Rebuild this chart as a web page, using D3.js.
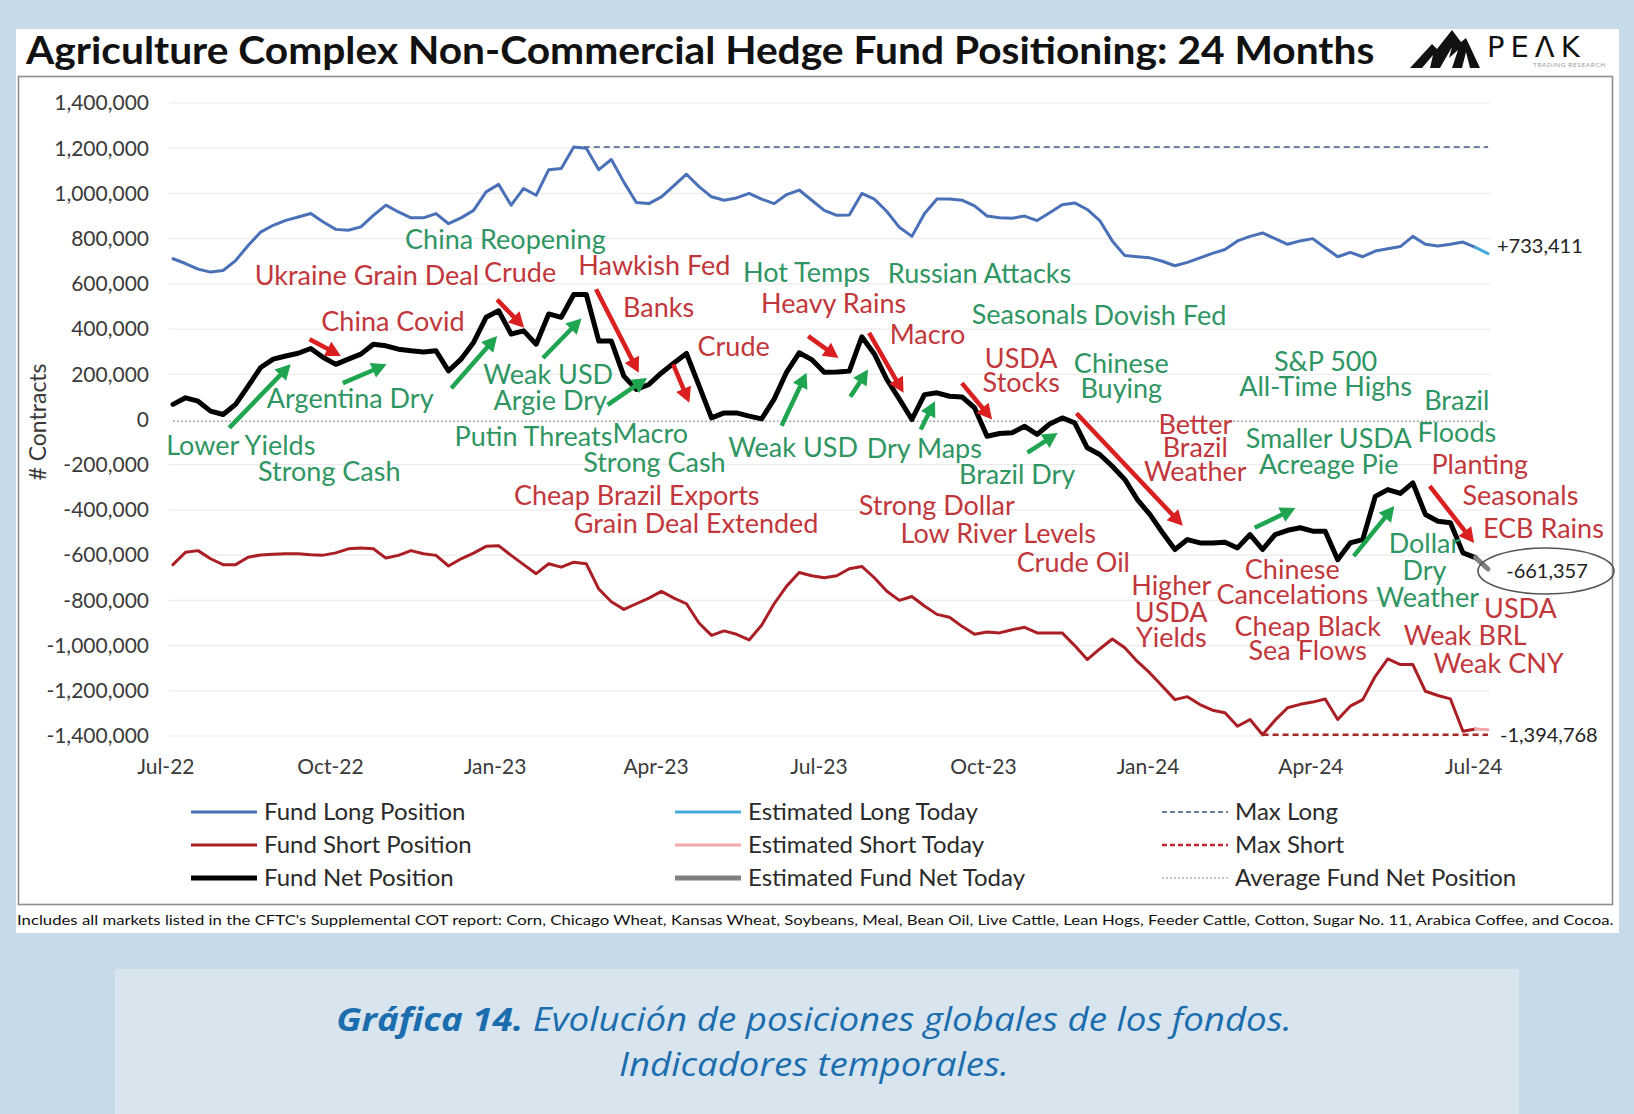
<!DOCTYPE html>
<html><head><meta charset="utf-8">
<script src="https://cdn.jsdelivr.net/npm/d3@7"></script>
<style>
html,body{margin:0;padding:0;background:#c6dae8;}
svg{display:block;}
</style></head><body>
<svg id="c" width="1634" height="1114"></svg>
<script>
// ---------------- DATA ----------------
const weekStart = new Date(2022, 6, 5);          // first weekly COT report
const nWeeks = 106;
const weekDates = d3.range(nWeeks).map(i => d3.timeDay.offset(weekStart, 7 * i));

// values in thousands of contracts
const fundLong = [711,690,665,652,659,703,770,829,859,881,
  896,911,874,841,837,852,903,948,918,892,
  892,911,866,892,925,1007,1040,948,1022,992,
  1105,1110,1205,1200,1105,1150,1050,960,955,985,
  1035,1085,1030,985,970,980,1000,975,955,995,
  1015,970,925,903,905,1000,975,920,850,810,
  910,975,975,970,945,900,892,890,900,880,
  915,950,958,929,880,790,725,720,715,700,
  680,695,715,735,752,790,810,825,800,775,
  790,800,760,720,739,720,745,755,765,810,
  775,767,775,785,761,733.411];
const fundShort = [-642,-587,-580,-616,-642,-642,-609,-599,-596,-594,
  -594,-598,-600,-590,-572,-568,-572,-613,-601,-580,
  -594,-601,-648,-616,-591,-561,-558,-601,-642,-682,
  -638,-653,-631,-638,-750,-806,-840,-815,-790,-760,
  -790,-815,-900,-955,-935,-950,-975,-910,-815,-737,
  -677,-691,-700,-691,-660,-650,-700,-760,-800,-783,
  -825,-862,-875,-915,-950,-940,-944,-930,-919,-944,
  -944,-944,-1000,-1062,-1015,-971,-1010,-1070,-1121,-1180,
  -1239,-1226,-1261,-1286,-1297,-1357,-1327,-1394.768,-1330,-1275,
  -1260,-1250,-1236,-1327,-1268,-1239,-1136,-1059,-1084,-1084,
  -1202,-1221,-1236,-1379,-1369,-1372];
const fundNet = [67,96,81,37,22,67,148,230,267,281,
  293,314,274,244,267,289,333,326,311,304,
  299,304,215,267,341,452,481,378,392,333,
  467,452,553,553,347,347,192,133,155,206,
  250,292,150,7,29,29,15,3,90,210,
  295,265,209,210,214,366,290,177,90,0,
  110,118,103,100,52,-74,-62,-59,-30,-66,
  -20,7,-15,-125,-155,-207,-265,-354,-420,-500,
  -575,-531,-546,-546,-543,-568,-509,-575,-509,-490,
  -479,-494,-494,-620,-546,-531,-340,-310,-327,-280,
  -420,-450,-457,-590,-611,-661.357];

const maxLong = 1205000;
const maxShort = -1394768;
const avgNet = -8000;
const maxLongStart = 32;     // week index where max long occurs
const maxShortStart = 87;    // week index where max short occurs

const yTicks = d3.range(-1400000, 1400001, 200000);
const xTicks = [new Date(2022,6,1),new Date(2022,9,1),new Date(2023,0,1),new Date(2023,3,1),
  new Date(2023,6,1),new Date(2023,9,1),new Date(2024,0,1),new Date(2024,3,1),new Date(2024,6,1)];

const endLabels = {long: "+733,411", net: "-661,357", maxShort: "-1,394,768"};

// annotations: [text, week position, value (thousands)]
const greenNotes = [
  ["China Reopening",26.54,797],["Lower Yields",5.41,-115],["Strong Cash",12.48,-230],
  ["Argentina Dry",14.15,92],["Weak USD",29.96,198],["Argie Dry",30.12,83],
  ["Putin Threats",28.79,-74],["Macro",38.11,-60],["Strong Cash",38.44,-189],
  ["Hot Temps",50.59,650],["Russian Attacks",64.40,645],["Weak USD",49.51,-124],
  ["Dry Maps",59.99,-129],["Seasonals",68.40,466],["Dovish Fed",78.80,461],
  ["Chinese",75.72,249],["Buying",75.72,138],["Brazil Dry",67.40,-244],
  ["S&P 500",92.03,258],["All-Time Highs",92.03,147],["Smaller USDA",92.28,-83],
  ["Acreage Pie",92.28,-198],["Brazil",102.51,83],["Floods",102.51,-55],
  ["Dollar",99.93,-548],["Dry",99.93,-668],["Weather",100.18,-788]
];
const redNotes = [
  ["Ukraine Grain Deal",15.48,636],["Crude",27.71,650],["Hawkish Fed",38.44,682],
  ["China Covid",17.56,433],["Banks",38.78,498],["Crude",44.77,323],
  ["Heavy Rains",52.75,512],["Macro",60.24,378],["USDA",67.73,272],["Stocks",67.73,166],
  ["Cheap Brazil Exports",37.03,-336],["Grain Deal Extended",41.77,-461],
  ["Strong Dollar",60.99,-378],["Low River Levels",65.90,-502],["Crude Oil",71.89,-631],
  ["Better",81.63,-23],["Brazil",81.63,-124],["Weather",81.63,-230],
  ["Higher",79.71,-733],["USDA",79.71,-853],["Yields",79.71,-963],
  ["Chinese",89.37,-664],["Cancelations",89.37,-774],
  ["Cheap Black",90.61,-913],["Sea Flows",90.61,-1023],
  ["Planting",104.34,-198],["Seasonals",107.59,-336],["ECB Rains",109.42,-479],
  ["USDA",107.59,-834],["Weak BRL",103.18,-954],["Weak CNY",105.84,-1078]
];
// arrows: [w1, v1, w2, v2] (tail -> head)
const greenArrows = [
  [4.49,-37,9.40,244],[13.56,161,17.06,244],[22.22,138,25.88,369],[29.54,272,32.62,447],
  [34.70,65,37.86,184],[48.59,-28,50.59,207],[54.09,101,55.50,221],[59.70,-44,60.84,81],
  [68.23,-147,70.64,-60],[86.37,-479,89.62,-392],[94.28,-604,97.52,-383]
];
const redArrows = [
  [10.90,355,13.40,281],[25.88,530,28.04,406],[33.78,576,37.19,207],[39.94,244,41.23,74],
  [50.72,369,53.14,272],[55.58,383,58.33,118],[62.99,161,65.40,0],[72.14,28,80.63,-470],
  [100.35,-295,103.89,-546]
];

const legendItems = [
  {label:"Fund Long Position", col:0, row:0, color:"#4a70b8", w:3, dash:null},
  {label:"Fund Short Position", col:0, row:1, color:"#aa1f25", w:3, dash:null},
  {label:"Fund Net Position", col:0, row:2, color:"#000", w:5, dash:null},
  {label:"Estimated Long Today", col:1, row:0, color:"#46a9dc", w:3, dash:null},
  {label:"Estimated Short Today", col:1, row:1, color:"#f3a7a7", w:3, dash:null},
  {label:"Estimated Fund Net Today", col:1, row:2, color:"#808080", w:5, dash:null},
  {label:"Max Long", col:2, row:0, color:"#6f82a4", w:2, dash:"5,3"},
  {label:"Max Short", col:2, row:1, color:"#c0282d", w:2.5, dash:"5,3"},
  {label:"Average Fund Net Position", col:2, row:2, color:"#b8b8b8", w:1.5, dash:"2,2"}
];

// ---------------- DRAW ----------------
const svg = d3.select("#c");
const FONT = "Lato, 'Open Sans', sans-serif";
const fmtNum = d3.formatLocale({decimal:".", thousands:",", grouping:[3], currency:["$",""], minus:"-"}).format(",");

function fit(sel, target, pivot) {
  const bb = sel.node().getBBox();
  const s = target / bb.width;
  const px = pivot === "middle" ? bb.x + bb.width / 2 : bb.x;
  sel.attr("transform", `translate(${px},0) scale(${s},1) translate(${-px},0)`);
}

// backgrounds
svg.append("rect").attr("x",0).attr("y",0).attr("width",1634).attr("height",1114).attr("fill","#c6dae8");
svg.append("rect").attr("x",16).attr("y",29).attr("width",1603).attr("height",904).attr("fill","#fff");
svg.append("rect").attr("x",18.5).attr("y",76.5).attr("width",1594).attr("height",828)
  .attr("fill","none").attr("stroke","#8e8e8e").attr("stroke-width",1.6);
svg.append("rect").attr("x",115).attr("y",969).attr("width",1404).attr("height",145).attr("fill","#d8e5ef");

// title
const title = svg.append("text").attr("x",26).attr("y",64)
  .attr("font-family",FONT).attr("font-weight",700).attr("font-size",38).attr("fill","#111")
  .text("Agriculture Complex Non-Commercial Hedge Fund Positioning: 24 Months");
fit(title, 1350, "start");

// logo
const logo = svg.append("g");
logo.append("path").attr("d","M1410,68 L1432,44 L1437,49 L1452,30 L1461,42 L1466,38 L1480,68 Z").attr("fill","#111");
logo.append("path").attr("d","M1440,68 L1452,47 L1449,58 L1458,50 L1452,68 Z M1462,68 L1466,52 L1470,68 Z M1422,68 L1433,55 L1430,68 Z").attr("fill","#fff");
logo.append("text").attr("x",1487).attr("y",57).attr("font-family","'DejaVu Sans', sans-serif").attr("font-weight",400)
  .attr("font-size",29).attr("letter-spacing",6).attr("fill","#111").text("PEΛK");
logo.append("text").attr("x",1533).attr("y",67).attr("font-family",FONT)
  .attr("font-size",6.5).attr("letter-spacing",0.6).attr("fill","#999").text("TRADING RESEARCH");

// scales
const x = d3.scaleTime().domain([weekDates[0], weekDates[nWeeks-1]]).range([173, 1488]);
const y = d3.scaleLinear().domain([-1400000, 1400000]).range([736, 103]);
const WEEK = 7 * 864e5;
const px = w => x(new Date(+weekStart + w * WEEK));
const py = v => y(v * 1000);

// grid
const gx0 = x(weekDates[0]) - 4, gx1 = x(weekDates[nWeeks-1]) + 2;
svg.append("g").selectAll("line").data(yTicks.filter(d => d !== 0)).join("line")
  .attr("x1",gx0).attr("x2",gx1).attr("y1",d=>y(d)).attr("y2",d=>y(d))
  .attr("stroke","#ececec").attr("stroke-width",1.2);

// y axis labels
svg.append("g").selectAll("text").data(yTicks).join("text")
  .attr("x",149).attr("y",d=>y(d)).attr("dy","0.35em").attr("text-anchor","end")
  .attr("font-family",FONT).attr("font-size",21).attr("fill","#3a3a3a")
  .text(d => fmtNum(d));
svg.append("text").attr("transform","translate(46,422) rotate(-90)").attr("text-anchor","middle")
  .attr("font-family",FONT).attr("font-size",23).attr("fill","#3a3a3a").text("# Contracts");

// x axis labels
const xfmt = d3.timeFormat("%b-%y");
svg.append("g").selectAll("text").data(xTicks).join("text")
  .attr("x",d=>x(d)).attr("y",774).attr("text-anchor","middle")
  .attr("font-family",FONT).attr("font-size",21).attr("fill","#3a3a3a").text(d=>xfmt(d));

// reference lines
svg.append("line").attr("x1",x(weekDates[0])).attr("x2",x(weekDates[nWeeks-1]))
  .attr("y1",y(avgNet)).attr("y2",y(avgNet)).attr("stroke","#aaa").attr("stroke-width",1.5).attr("stroke-dasharray","2,2");
svg.append("line").attr("x1",x(weekDates[maxLongStart])).attr("x2",x(weekDates[nWeeks-1]))
  .attr("y1",y(maxLong)).attr("y2",y(maxLong)).attr("stroke","#6f82a4").attr("stroke-width",2).attr("stroke-dasharray","6,4");
svg.append("line").attr("x1",x(weekDates[maxShortStart])).attr("x2",x(weekDates[nWeeks-1]))
  .attr("y1",y(maxShort)).attr("y2",y(maxShort)).attr("stroke","#a52a2a").attr("stroke-width",2.5).attr("stroke-dasharray","6,4");

// series
const line = d3.line().x(d=>x(d[0])).y(d=>y(d[1]*1000)).curve(d3.curveLinear);
function series(vals, color, est, w) {
  const pts = vals.map((v,i)=>[weekDates[i], v]);
  svg.append("path").attr("d", line(pts.slice(0, nWeeks-1))).attr("fill","none")
    .attr("stroke",color).attr("stroke-width",w).attr("stroke-linejoin","round").attr("stroke-linecap","round");
  svg.append("path").attr("d", line(pts.slice(nWeeks-2))).attr("fill","none")
    .attr("stroke",est).attr("stroke-width",w).attr("stroke-linecap","round");
}
series(fundLong, "#4a70b8", "#46a9dc", 3);
series(fundShort, "#aa1f25", "#f3a7a7", 3);
series(fundNet, "#000", "#808080", 5);

// arrows
function arrow(g, a, color) {
  const x1 = px(a[0]), y1 = py(a[1]), x2 = px(a[2]), y2 = py(a[3]);
  const dx = x2-x1, dy = y2-y1, L = Math.hypot(dx,dy), ux = dx/L, uy = dy/L;
  const hl = 15, hw = 8, bx = x2-ux*hl, by = y2-uy*hl;
  g.append("line").attr("x1",x1).attr("y1",y1).attr("x2",bx+ux*2).attr("y2",by+uy*2)
    .attr("stroke",color).attr("stroke-width",4.5);
  g.append("path").attr("d",`M${x2},${y2}L${bx-uy*hw},${by+ux*hw}L${bx+uy*hw},${by-ux*hw}Z`).attr("fill",color);
}
const ag = svg.append("g");
greenArrows.forEach(a => arrow(ag, a, "#1fa550"));
redArrows.forEach(a => arrow(ag, a, "#d91f1f"));

// annotation text
function notes(arr, color) {
  svg.append("g").selectAll("text").data(arr).join("text")
    .attr("x",d=>px(d[1])).attr("y",d=>py(d[2])).attr("dy","0.36em").attr("text-anchor","middle")
    .attr("font-family",FONT).attr("font-size",27).attr("fill",color).text(d=>d[0]);
}
notes(greenNotes, "#2f9562");
notes(redNotes, "#c1373c");

// end labels
const lx = x(weekDates[nWeeks-1]);
svg.append("text").attr("x",lx+9).attr("y",y(fundLong[nWeeks-1]*1000)-8).attr("dy","0.35em")
  .attr("font-family",FONT).attr("font-size",20).attr("fill","#222").text(endLabels.long);
const ny = y(fundNet[nWeeks-1]*1000);
svg.append("ellipse").attr("cx",lx+58).attr("cy",ny+2).attr("rx",68).attr("ry",23)
  .attr("fill","none").attr("stroke","#555").attr("stroke-width",1.6);
svg.append("text").attr("x",lx+59).attr("y",ny+2).attr("dy","0.35em").attr("text-anchor","middle")
  .attr("font-family",FONT).attr("font-size",20).attr("fill","#222").text(endLabels.net);
svg.append("text").attr("x",lx+12).attr("y",y(maxShort)).attr("dy","0.35em")
  .attr("font-family",FONT).attr("font-size",20).attr("fill","#222").text(endLabels.maxShort);

// legend
const colX = [191, 675, 1162], rowY = [812, 845, 878];
const lg = svg.append("g");
legendItems.forEach(it => {
  const x0 = colX[it.col], yy = rowY[it.row];
  lg.append("line").attr("x1",x0).attr("x2",x0+66).attr("y1",yy).attr("y2",yy)
    .attr("stroke",it.color).attr("stroke-width",it.w).attr("stroke-dasharray",it.dash);
  lg.append("text").attr("x",x0+73).attr("y",yy).attr("dy","0.35em")
    .attr("font-family",FONT).attr("font-size",24).attr("fill","#2a2a2a").text(it.label);
});

// footnote
const fn = svg.append("text").attr("x",17).attr("y",925).attr("font-family",FONT).attr("font-size",14).attr("fill","#111")
  .text("Includes all markets listed in the CFTC's Supplemental COT report: Corn, Chicago Wheat, Kansas Wheat, Soybeans, Meal, Bean Oil, Live Cattle, Lean Hogs, Feeder Cattle, Cotton, Sugar No. 11, Arabica Coffee, and Cocoa.");
fit(fn, 1598, "start");

// caption
const c1 = svg.append("text").attr("x",814).attr("y",1031).attr("text-anchor","middle")
  .attr("font-family","'Open Sans', sans-serif").attr("font-size",33).attr("font-style","italic").attr("fill","#1b6dad");
c1.append("tspan").attr("font-weight",700).text("Gráfica 14.");
c1.append("tspan").text(" Evolución de posiciones globales de los fondos.");
fit(c1, 956, "middle");
const c2 = svg.append("text").attr("x",814).attr("y",1076).attr("text-anchor","middle")
  .attr("font-family","'Open Sans', sans-serif").attr("font-size",33).attr("font-style","italic").attr("fill","#1b6dad")
  .text("Indicadores temporales.");
fit(c2, 390, "middle");
</script>
</body></html>
